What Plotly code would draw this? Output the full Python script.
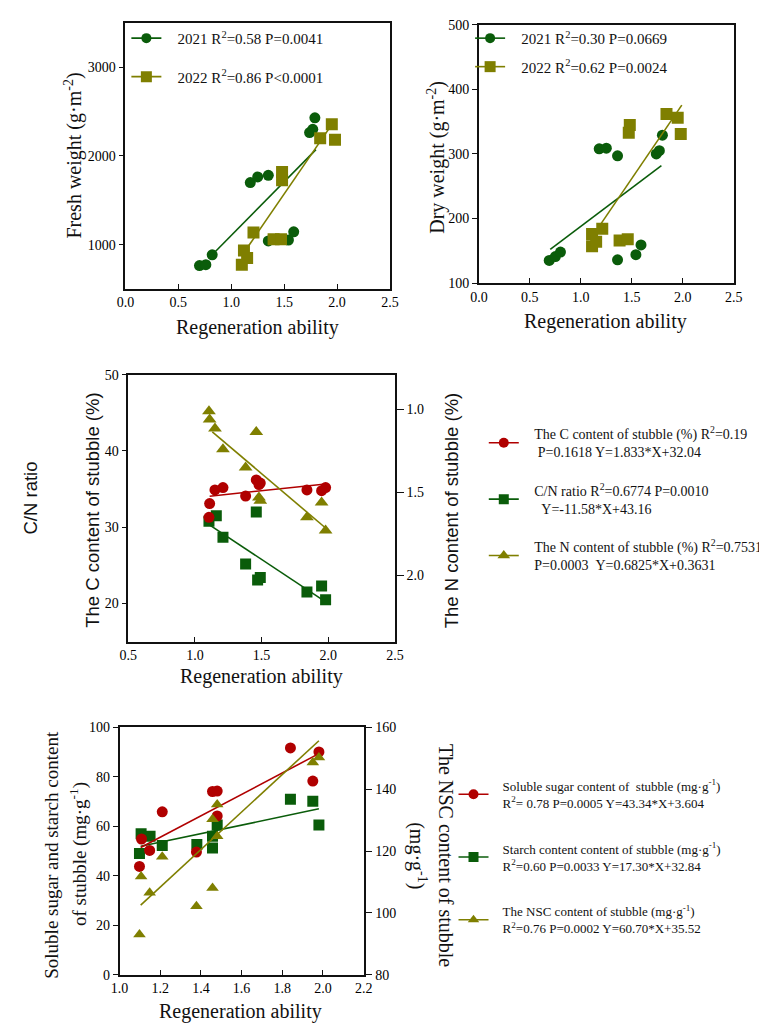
import plotly.graph_objects as go

W, H = 767, 1028
GREEN = '#0a5c0a'
OLIVE = '#7f7f00'
RED = '#b00000'
SERIF = 'Liberation Serif, Times New Roman, serif'
SANS = 'Liberation Sans, Arial, sans-serif'
NB = '\u00a0'

# ---------------- Panel A: fresh weight ----------------
fw21_x = [0.70, 0.76, 0.82, 1.18, 1.25, 1.35, 1.35, 1.54, 1.59, 1.74, 1.77, 1.79]
fw21_y = [763, 774, 885, 1700, 1763, 1781, 1041, 1052, 1144, 2263, 2300, 2430]
fw22_x = [1.10, 1.12, 1.15, 1.21, 1.40, 1.47, 1.48, 1.48, 1.84, 1.95, 1.98]
fw22_y = [774, 933, 848, 1137, 1059, 1059, 1819, 1726, 2200, 2356, 2181]
fw21_fit = {'slope': 1209, 'intercept': -106, 'x': [0.82, 1.80]}
fw22_fit = {'slope': 1740, 'intercept': -1039, 'x': [1.127, 1.93]}
fw_names = ['2021 R<sup>2</sup>=0.58 P=0.0041', '2022 R<sup>2</sup>=0.86 P<0.0001']

# ---------------- Panel B: dry weight ----------------
dw21_x = [0.69, 0.75, 0.80, 1.18, 1.25, 1.36, 1.36, 1.54, 1.59, 1.74, 1.77, 1.80]
dw21_y = [135, 141, 148, 308, 309, 297, 136, 144, 159, 300, 305, 329]
dw22_x = [1.11, 1.11, 1.15, 1.21, 1.38, 1.46, 1.47, 1.48, 1.84, 1.95, 1.98]
dw22_y = [157, 176, 164, 184, 166, 168, 333, 345, 362, 356, 331]
dw21_fit = {'slope': 119.3, 'intercept': 68.5, 'x': [0.70, 1.79]}
dw22_fit = {'slope': 232, 'intercept': -86, 'x': [1.19, 1.99]}
dw_names = ['2021 R<sup>2</sup>=0.30 P=0.0669', '2022 R<sup>2</sup>=0.62 P=0.0024']

# ---------------- Panel C: C, N, C/N ----------------
cn_x = [1.105, 1.11, 1.15, 1.21, 1.38, 1.46, 1.48, 1.49, 1.84, 1.95, 1.98]
c_content = [31.3, 33.1, 34.9, 35.2, 34.1, 36.2, 35.6, 35.8, 34.9, 34.8, 35.2]
cn_ratio_x = [1.105, 1.16, 1.21, 1.38, 1.46, 1.47, 1.49, 1.84, 1.95, 1.98]
cn_ratio = [30.8, 31.5, 28.7, 25.2, 32.0, 23.1, 23.4, 21.5, 22.3, 20.5]
n_x = [1.105, 1.11, 1.15, 1.21, 1.38, 1.46, 1.48, 1.49, 1.84, 1.95, 1.98]
n_content = [1.01, 1.06, 1.115, 1.24, 1.35, 1.135, 1.53, 1.55, 1.65, 1.56, 1.73]
c_fit = {'slope': 1.833, 'intercept': 32.04, 'x': [1.11, 1.98]}
cn_fit = {'slope': -11.58, 'intercept': 43.16, 'x': [1.10, 1.98]}
n_fit = {'slope': 0.6825, 'intercept': 0.3631, 'x': [1.13, 1.98]}
c_name = ['The C content of stubble (%) R<sup>2</sup>=0.19', NB + 'P=0.1618 Y=1.833*X+32.04']
cn_name = ['C/N ratio R<sup>2</sup>=0.6774 P=0.0010', NB * 2 + 'Y=-11.58*X+43.16']
n_name = ['The N content of stubble (%) R<sup>2</sup>=0.7531', 'P=0.0003' + NB * 2 + 'Y=0.6825*X+0.3631']

# ---------------- Panel D: sugar, starch, NSC ----------------
sug_x = [1.098, 1.108, 1.148, 1.21, 1.378, 1.457, 1.48, 1.48, 1.84, 1.95, 1.98]
sugar = [43.8, 54.9, 50.3, 65.9, 49.6, 74.1, 74.3, 64.2, 91.7, 78.3, 90.1]
sta_x = [1.098, 1.106, 1.15, 1.21, 1.38, 1.457, 1.457, 1.48, 1.84, 1.95, 1.98]
starch = [49.0, 57.0, 56.0, 52.3, 52.7, 51.3, 56.0, 60.6, 71.0, 70.2, 60.6]
nsc_x = [1.098, 1.106, 1.148, 1.21, 1.378, 1.457, 1.457, 1.48, 1.48, 1.95, 1.98]
nsc = [93.0, 111.8, 106.5, 118.2, 102.2, 108.1, 130.3, 135.1, 124.8, 148.7, 150.3]
sug_fit = {'slope': 43.34, 'intercept': 3.604, 'x': [1.104, 1.98]}
sta_fit = {'slope': 17.30, 'intercept': 32.84, 'x': [1.104, 1.98]}
nsc_fit = {'slope': 60.70, 'intercept': 35.52, 'x': [1.104, 1.98]}
sug_name = ['Soluble sugar content of ' + NB + 'stubble (mg\u00b7g<sup>-1</sup>)',
            'R<sup>2</sup>= 0.78 P=0.0005 Y=43.34*X+3.604']
sta_name = ['Starch content content of stubble (mg\u00b7g<sup>-1</sup>)',
            'R<sup>2</sup>=0.60 P=0.0033 Y=17.30*X+32.84']
nsc_name = ['The NSC content of stubble (mg\u00b7g<sup>-1</sup>)',
            'R<sup>2</sup>=0.76 P=0.0002 Y=60.70*X+35.52']

fig = go.Figure()


def label(lines, pad):
    if isinstance(lines, str):
        lines = [lines]
    return '<br>'.join(pad + ln for ln in lines)


def fit_line(fit):
    xs = fit['x']
    return xs, [fit['slope'] * v + fit['intercept'] for v in xs]


def add_series(x, y, fit, color, symbol, size, xa, ya):
    fx, fy = fit_line(fit)
    fig.add_trace(go.Scatter(x=fx, y=fy, mode='lines', line=dict(color=color, width=1.6),
                             xaxis=xa, yaxis=ya, showlegend=False, hoverinfo='skip'))
    fig.add_trace(go.Scatter(x=x, y=y, mode='markers',
                             marker=dict(color=color, symbol=symbol, size=size, line=dict(width=0)),
                             xaxis=xa, yaxis=ya, showlegend=False))


def add_legend(color, symbol, size, xa, ya, name, legend, group, pad):
    fig.add_trace(go.Scatter(x=[None], y=[None], mode='lines+markers', name=label(name, pad),
                             line=dict(color=color, width=1.6),
                             marker=dict(color=color, symbol=symbol, size=size),
                             xaxis=xa, yaxis=ya, legend=legend, legendgroup=group, showlegend=True))


# data marks (drawing order)
add_series(fw21_x, fw21_y, fw21_fit, GREEN, 'circle', 11, 'x', 'y')
add_series(fw22_x, fw22_y, fw22_fit, OLIVE, 'square', 12, 'x', 'y')
add_series(dw21_x, dw21_y, dw21_fit, GREEN, 'circle', 11, 'x2', 'y2')
add_series(dw22_x, dw22_y, dw22_fit, OLIVE, 'square', 12, 'x2', 'y2')
add_series(n_x, n_content, n_fit, OLIVE, 'triangle-up', 12, 'x3', 'y4')
add_series(cn_ratio_x, cn_ratio, cn_fit, GREEN, 'square', 11, 'x3', 'y3')
add_series(cn_x, c_content, c_fit, RED, 'circle', 11, 'x3', 'y3')
add_series(nsc_x, nsc, nsc_fit, OLIVE, 'triangle-up', 11, 'x4', 'y6')
add_series(sta_x, starch, sta_fit, GREEN, 'square', 11, 'x4', 'y5')
add_series(sug_x, sugar, sug_fit, RED, 'circle', 11, 'x4', 'y5')

# legend entries (legend order)
P3 = NB * 3
P2 = NB * 2 + '\u2009'
add_legend(GREEN, 'circle', 10, 'x', 'y', fw_names[0], 'legend', 'a1', P3)
add_legend(OLIVE, 'square', 11, 'x', 'y', fw_names[1], 'legend', 'a2', P3)
add_legend(GREEN, 'circle', 10, 'x2', 'y2', dw_names[0], 'legend2', 'b1', P3)
add_legend(OLIVE, 'square', 11, 'x2', 'y2', dw_names[1], 'legend2', 'b2', P3)
add_legend(RED, 'circle', 10, 'x3', 'y3', c_name, 'legend3', 'c1', P3)
add_legend(GREEN, 'square', 10, 'x3', 'y3', cn_name, 'legend3', 'c2', P3)
add_legend(OLIVE, 'triangle-up', 11, 'x3', 'y4', n_name, 'legend3', 'c3', P3)
add_legend(RED, 'circle', 10, 'x4', 'y5', sug_name, 'legend4', 'd1', P2)
add_legend(GREEN, 'square', 10, 'x4', 'y5', sta_name, 'legend4', 'd2', P2)
add_legend(OLIVE, 'triangle-up', 10, 'x4', 'y6', nsc_name, 'legend4', 'd3', P2)


def dx(a, b):
    return [a / W, b / W]


def dy(top, bottom):
    return [1 - bottom / H, 1 - top / H]


tickfont = dict(family=SERIF, size=14, color='black')
base = dict(showline=True, linecolor='#111', linewidth=1.5, showgrid=False, zeroline=False,
            tickfont=tickfont, ticklen=5, tickcolor='#111', tickwidth=1.2)

fig.update_layout(
    xaxis=dict(base, domain=dx(111, 382), range=[0, 2.5], tickvals=[0, 0.5, 1, 1.5, 2, 2.5],
               tickformat='.1f', ticks='inside', mirror=True, anchor='y'),
    yaxis=dict(base, domain=dy(8, 278), range=[500, 3500], tickvals=[1000, 2000, 3000],
               ticks='outside', mirror=True, anchor='x'),
    xaxis2=dict(base, domain=dx(473, 734), range=[0, 2.5], tickvals=[0, 0.5, 1, 1.5, 2, 2.5],
                tickformat='.1f', ticks='inside', mirror=True, anchor='y2'),
    yaxis2=dict(base, domain=dy(10, 272), range=[100, 500], tickvals=[100, 200, 300, 400, 500],
                ticks='outside', mirror=True, anchor='x2'),
    xaxis3=dict(base, domain=dx(114, 387), range=[0.5, 2.5], tickvals=[0.5, 1, 1.5, 2, 2.5],
                tickformat='.1f', ticks='inside', mirror=True, anchor='y3'),
    yaxis3=dict(base, domain=dy(365, 636), range=[15, 50], tickvals=[20, 30, 40, 50],
                ticks='outside', mirror=True, anchor='x3'),
    yaxis4=dict(base, domain=dy(365, 636), range=[2.4, 0.79], tickvals=[1.0, 1.5, 2.0],
                tickformat='.1f', ticks='outside', overlaying='y3', side='right', anchor='x3',
                ticklen=7),
    xaxis4=dict(base, domain=dx(105, 355), range=[1.0, 2.2],
                tickvals=[1.0, 1.2, 1.4, 1.6, 1.8, 2.0, 2.2], tickformat='.1f',
                ticks='inside', mirror=True, anchor='y5'),
    yaxis5=dict(base, domain=dy(723, 974), range=[0, 100], tickvals=[0, 20, 40, 60, 80, 100],
                ticks='outside', mirror=True, anchor='x4'),
    yaxis6=dict(base, domain=dy(723, 974), range=[80, 160], tickvals=[80, 100, 120, 140, 160],
                ticks='outside', overlaying='y5', side='right', anchor='x4', ticklen=7),
)

leg_base = dict(bgcolor='rgba(0,0,0,0)', borderwidth=0, xanchor='left', yanchor='top',
                itemwidth=30, itemclick=False, itemdoubleclick=False, traceorder='grouped')
fig.update_layout(
    legend=dict(leg_base, x=112 / W, y=1 - 7 / H, font=dict(family=SERIF, size=15, color='#111'),
                tracegroupgap=16),
    legend2=dict(leg_base, x=464 / W, y=1 - 7 / H, font=dict(family=SERIF, size=15, color='#111'),
                 tracegroupgap=6),
    legend3=dict(leg_base, x=478 / W, y=1 - 409 / H, font=dict(family=SERIF, size=14, color='#111'),
                 tracegroupgap=17),
    legend4=dict(leg_base, x=447 / W, y=1 - 767 / H, font=dict(family=SERIF, size=13, color='#111'),
                 tracegroupgap=26),
)


def ann(text, x, y, angle=0, size=20, family=SERIF):
    fig.add_annotation(text=text, x=x / W, y=1 - y / H, xref='paper', yref='paper',
                       xanchor='center', yanchor='middle', showarrow=False, textangle=angle,
                       font=dict(family=family, size=size, color='#111'))


ann('Fresh weight (g\u00b7m<sup>-2</sup>)', 58, 143, -90)
ann('Regeneration ability', 246, 317)
ann('Dry weight (g\u00b7m<sup>-2</sup>)', 430, 144, -90)
ann('Regeneration ability', 603, 311)
ann('C/N ratio', 14, 490, -90, 18.5, SANS)
ann('The C content of stubble (%)', 77, 503, -90, 18.5, SANS)
ann('The N content of stubble (%)', 445, 503, -90, 18.5, SANS)
ann('Regeneration ability', 250, 671)
ann('Soluble sugar and starch content', 35, 852, -90, 19)
ann('of stubble (mg\u00b7g<sup>-1</sup>)', 63, 852, -90, 19)
ann('The NSC content of stubble', 440, 853, 90)
ann('(mg\u00b7g<sup>-1</sup>)', 410, 853, 90)
ann('Regeneration ability', 229, 1011)

fig.update_layout(width=W, height=H, margin=dict(l=0, r=0, t=0, b=0),
                  paper_bgcolor='white', plot_bgcolor='white', showlegend=True)

fig.write_html('out.html')
